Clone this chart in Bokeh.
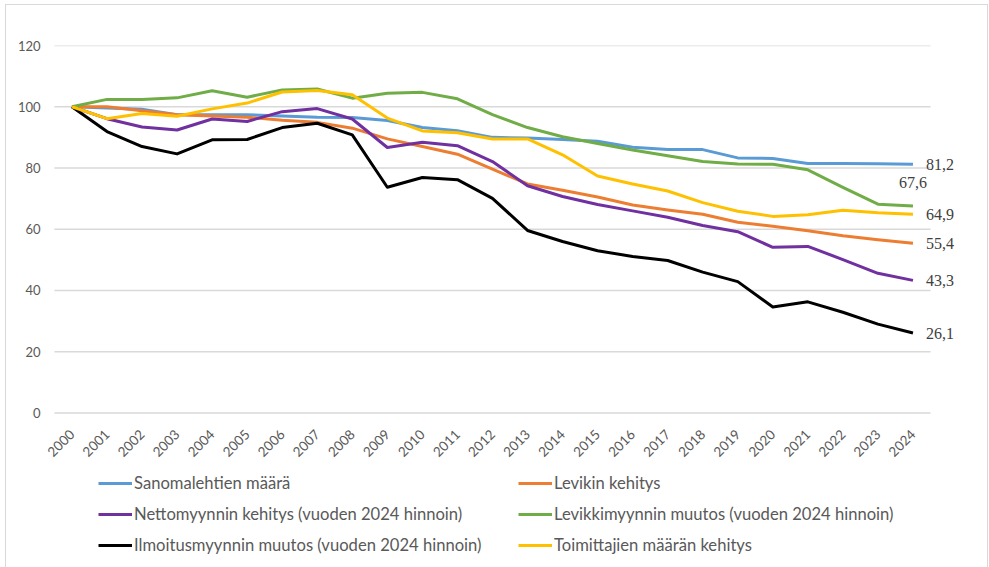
import math
from bokeh.plotting import figure
from bokeh.models import (ColumnDataSource, Legend, LegendItem, LabelSet, FixedTicker, Range1d)
from bokeh.embed import file_html
from bokeh.resources import INLINE

years = ["2000", "2001", "2002", "2003", "2004", "2005", "2006", "2007", "2008",
         "2009", "2010", "2011", "2012", "2013", "2014", "2015", "2016", "2017",
         "2018", "2019", "2020", "2021", "2022", "2023", "2024"]

sanomalehtien_maara = [100, 99.6, 99.2, 97.4, 97.4, 97.4, 97.0, 96.6, 96.5, 95.5, 93.2, 92.2,
                       90.0, 89.8, 89.3, 88.7, 86.8, 86.0, 86.0, 83.3, 83.1, 81.5, 81.5, 81.4, 81.2]
levikin_kehitys = [100, 100, 98.7, 97.4, 97.0, 96.6, 95.6, 94.9, 93.0, 89.5, 87.0, 84.5,
                   79.6, 74.8, 72.7, 70.5, 67.9, 66.3, 64.9, 62.3, 61.0, 59.5, 57.9, 56.6, 55.4]
nettomyynti = [100, 96.1, 93.4, 92.4, 96.0, 95.2, 98.4, 99.4, 96.0, 86.7, 88.4, 87.3,
               82.1, 74.2, 70.7, 68.1, 66.0, 63.9, 61.2, 59.2, 54.1, 54.4, 50.1, 45.6, 43.3]
levikkimyynti = [100, 102.4, 102.4, 102.9, 105.2, 103.1, 105.5, 105.8, 102.8, 104.4, 104.7, 102.6,
                 97.4, 93.2, 90.2, 88.0, 85.9, 84.0, 82.1, 81.3, 81.2, 79.4, 73.7, 68.2, 67.6]
ilmoitusmyynti = [100, 91.9, 87.0, 84.6, 89.2, 89.3, 93.2, 94.6, 90.8, 73.7, 76.9, 76.2,
                  70.1, 59.6, 56.0, 53.0, 51.1, 49.8, 46.0, 42.9, 34.6, 36.3, 32.9, 29.0, 26.1]
toimittajat = [100, 96.1, 97.8, 96.9, 99.3, 101.2, 104.8, 105.3, 103.9, 96.3, 92.1, 91.5,
               89.5, 89.5, 84.3, 77.4, 74.8, 72.5, 68.7, 65.9, 64.2, 64.7, 66.2, 65.4, 64.9]

series_names = ["Sanomalehtien määrä", "Levikin kehitys",
                "Nettomyynnin kehitys (vuoden 2024 hinnoin)",
                "Levikkimyynnin muutos (vuoden 2024 hinnoin)",
                "Ilmoitusmyynnin muutos (vuoden 2024 hinnoin)",
                "Toimittajien määrän kehitys"]
series_values = [sanomalehtien_maara, levikin_kehitys, nettomyynti,
                 levikkimyynti, ilmoitusmyynti, toimittajat]
series_colors = ["#5B9BD5", "#ED7D31", "#7030A0", "#70AD47", "#000000", "#FFC000"]
y_ticks = [0, 20, 40, 60, 80, 100, 120]

FONT = "Lato"
TXT = "#595959"

xs = list(range(len(years)))
n = len(years)

# frame: x from 41px to ~969px, 35 px per year, year 2000 centred at ~70px
p = figure(x_range=Range1d(-0.84, 25.67), y_range=Range1d(-48.5, 120), width=983, height=563,
           output_backend="svg", toolbar_location=None,
           min_border_left=36, min_border_right=18, min_border_top=40,
           min_border_bottom=7)
p.outline_line_color = None
p.background_fill_color = "white"
p.border_fill_color = "white"
p.styles = {"margin-left": "5px", "margin-top": "4px",
            "border-left": "1px solid #d9d9d9", "border-right": "1px solid #d9d9d9",
            "border-top": "1px solid #d9d9d9", "box-sizing": "border-box"}

p.xgrid.grid_line_color = None
p.ygrid.grid_line_color = None
p.yaxis.ticker = FixedTicker(ticks=y_ticks)
p.xaxis.ticker = FixedTicker(ticks=xs)
p.xaxis.major_label_overrides = {i: y for i, y in zip(xs, years)}
p.xaxis.fixed_location = 0

# horizontal gridlines spanning the category area
p.segment(x0=[-0.5] * len(y_ticks), x1=[n - 0.5] * len(y_ticks), y0=y_ticks, y1=y_ticks,
          line_color="#d9d9d9", line_width=1.5)

for ax in (p.xaxis[0], p.yaxis[0]):
    ax.axis_line_color = None
    ax.major_tick_line_color = None
    ax.minor_tick_line_color = None
    ax.major_tick_out = 0
    ax.major_tick_in = 0
    ax.major_label_text_color = TXT
    ax.major_label_text_font = FONT
    ax.major_label_text_font_size = "13.5px"
p.yaxis.major_label_text_font_size = "13px"
p.yaxis.major_label_standoff = 2
p.xaxis.major_label_standoff = 19
p.xaxis.major_label_orientation = math.pi / 4

items = []
for name, vals, col in zip(series_names, series_values, series_colors):
    src = ColumnDataSource(dict(x=xs, y=vals))
    r = p.line("x", "y", source=src, line_color=col, line_width=3, line_join="round")
    items.append(LegendItem(label=name, renderers=[r]))

# end value labels
right_idx = [0, 5, 1, 2, 4]
lab_src = ColumnDataSource(dict(
    x=[xs[-1]] * len(right_idx),
    y=[series_values[i][-1] for i in right_idx],
    t=[f"{series_values[i][-1]:.1f}".replace(".", ",") for i in right_idx]))
p.add_layout(LabelSet(x="x", y="y", text="t", source=lab_src, x_offset=13,
                      text_align="left", text_baseline="middle", text_font=FONT,
                      text_font_size="16px", text_color="#404040"))
top_src = ColumnDataSource(dict(
    x=[xs[-1]], y=[series_values[3][-1]],
    t=[f"{series_values[3][-1]:.1f}".replace(".", ",")]))
p.add_layout(LabelSet(x="x", y="y", text="t", source=top_src, y_offset=23,
                      text_align="center", text_baseline="middle", text_font=FONT,
                      text_font_size="16px", text_color="#404040"))

legend = Legend(items=items, location=(56, 6), orientation="horizontal", ncols=2,
                glyph_width=34, glyph_height=20, label_height=20, label_width=373,
                label_standoff=2, spacing=11, padding=0, margin=0,
                border_line_color=None, background_fill_alpha=0,
                label_text_font=FONT, label_text_font_size="16.6px",
                label_text_color=TXT)
p.add_layout(legend, "center")

open("out.html", "w").write(file_html(p, INLINE))
